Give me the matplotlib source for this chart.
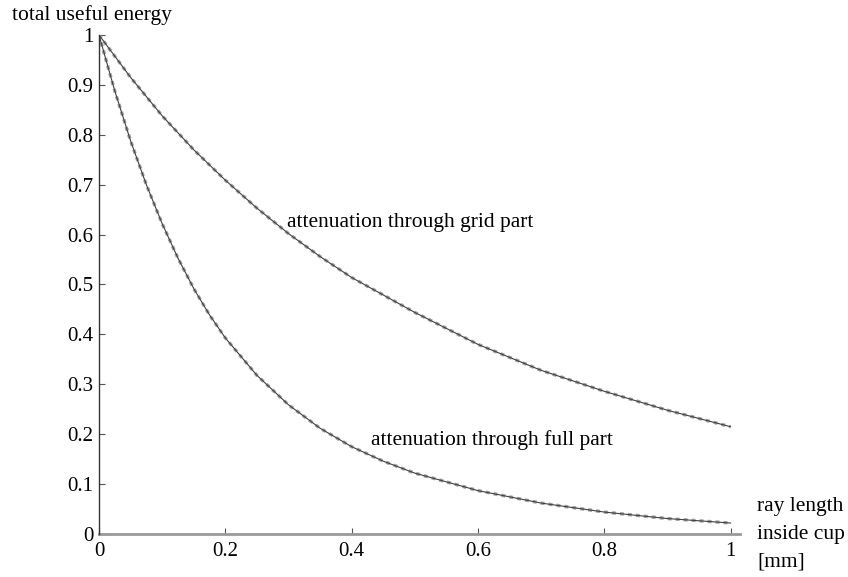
import matplotlib
matplotlib.use("Agg")
import matplotlib.pyplot as plt

# values
x_grid = [0.0, 0.05, 0.1, 0.15, 0.2, 0.25, 0.3, 0.35, 0.4, 0.5, 0.6, 0.7, 0.8, 0.9, 1.0]
y_grid = [1.0, 0.915, 0.838, 0.77, 0.709, 0.653, 0.602, 0.556, 0.514, 0.444, 0.38, 0.328, 0.286, 0.248, 0.215]

x_full = [0.0, 0.025, 0.05, 0.075, 0.1, 0.125, 0.15, 0.175, 0.2, 0.25, 0.3, 0.35,
          0.4, 0.45, 0.5, 0.6, 0.7, 0.8, 0.9, 1.0]
y_full = [1.0, 0.888, 0.788, 0.70, 0.622, 0.553, 0.492, 0.439, 0.393, 0.318, 0.259, 0.212,
          0.175, 0.146, 0.122, 0.087, 0.062, 0.044, 0.031, 0.022]

x_ticks = [0, 0.2, 0.4, 0.6, 0.8, 1]
x_tick_labels = ["0", "0.2", "0.4", "0.6", "0.8", "1"]
y_ticks = [0, 0.1, 0.2, 0.3, 0.4, 0.5, 0.6, 0.7, 0.8, 0.9, 1]
y_tick_labels = ["0", "0.1", "0.2", "0.3", "0.4", "0.5", "0.6", "0.7", "0.8", "0.9", "1"]

plt.rcParams["font.family"] = ["Liberation Serif", "DejaVu Serif"]

fig = plt.figure(figsize=(8.48, 5.77), dpi=100)
ax = fig.add_axes([0.1167, 0.0745, 0.756, 0.865])

for xs, ys in [(x_grid, y_grid), (x_full, y_full)]:
    ax.plot(xs, ys, color="#a0a0a0", lw=2.4, linestyle=(0, (1.2, 1.2)), zorder=2)
    ax.plot(xs, ys, color="#404040", lw=0.8, zorder=3)

ax.set_xlim(0, 1.015)
ax.set_ylim(0, 1)
ax.set_xticks(x_ticks, x_tick_labels)
ax.set_yticks(y_ticks, y_tick_labels)
ax.tick_params(direction="in", length=4, width=0.8, color="#555555",
               labelsize=15, pad=4)
ax.tick_params(axis="x", pad=6)

for s in ["top", "right"]:
    ax.spines[s].set_visible(False)
ax.spines["left"].set_color("#333333")
ax.spines["left"].set_linewidth(1.0)
ax.spines["bottom"].set_color("#999999")
ax.spines["bottom"].set_linewidth(2.0)
ax.spines["bottom"].set_linestyle((0, (1, 1)))
ax.spines["left"].set_zorder(4)

ax.text(0.298, 0.625, "attenuation through grid part", fontsize=15.5, va="center")
ax.text(0.431, 0.188, "attenuation through full part", fontsize=15.5, va="center")

fig.text(12 / 848, 1 - 15 / 577, "total useful energy", fontsize=15.5, va="center")
fig.text(757 / 848, 1 - 507 / 577, "ray length", fontsize=15.5, va="center")
fig.text(757 / 848, 1 - 535 / 577, "inside cup", fontsize=15.5, va="center")
fig.text(757 / 848, 1 - 562 / 577, "[mm]", fontsize=15.5, va="center")

fig.savefig("out.png", dpi=100)
